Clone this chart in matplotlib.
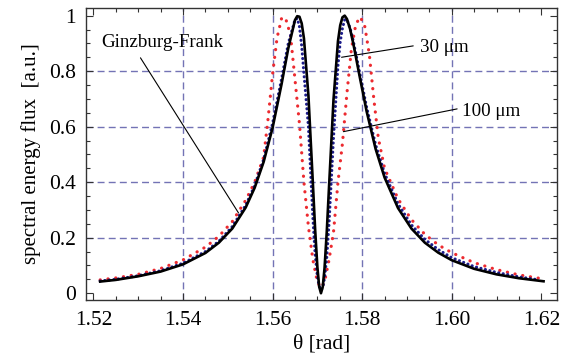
import numpy as np
import matplotlib as mpl
mpl.use("Agg")
import matplotlib.pyplot as plt
from matplotlib.ticker import MultipleLocator

# values
theta_gf = [1.5215, 1.525, 1.53, 1.535, 1.54, 1.545, 1.548, 1.551, 1.554, 1.556,
            1.558, 1.560, 1.562, 1.5635, 1.565, 1.5655, 1.566, 1.5665, 1.567, 1.568,
            1.569, 1.5695, 1.570, 1.5704, 1.5708, 1.5712, 1.5716, 1.5721, 1.5726, 1.5736,
            1.5746, 1.5751, 1.5756, 1.5761, 1.5766, 1.5773, 1.578, 1.5795, 1.581, 1.583,
            1.585, 1.588, 1.591, 1.594, 1.597, 1.600, 1.605, 1.610, 1.615, 1.6205]
flux_gf = [0.042, 0.048, 0.061, 0.078, 0.104, 0.145, 0.182, 0.233, 0.309, 0.380,
           0.473, 0.596, 0.753, 0.882, 0.984, 0.998, 0.996, 0.972, 0.918, 0.712,
           0.394, 0.229, 0.094, 0.024, 0.0, 0.023, 0.090, 0.222, 0.382, 0.697,
           0.908, 0.965, 0.994, 1.0, 0.988, 0.952, 0.901, 0.776, 0.655, 0.520,
           0.417, 0.307, 0.233, 0.182, 0.146, 0.119, 0.088, 0.068, 0.054, 0.043]

theta_30 = [1.5215, 1.525, 1.53, 1.535, 1.54, 1.545, 1.548, 1.551, 1.554, 1.556,
            1.558, 1.560, 1.562, 1.5635, 1.565, 1.5655, 1.566, 1.5665, 1.567, 1.568,
            1.569, 1.5695, 1.570, 1.5704, 1.5708, 1.5712, 1.5716, 1.5721, 1.5726, 1.5736,
            1.5746, 1.5751, 1.5756, 1.5761, 1.5766, 1.5773, 1.578, 1.5795, 1.581, 1.583,
            1.585, 1.588, 1.591, 1.594, 1.597, 1.600, 1.605, 1.610, 1.615, 1.6195]
flux_30 = [0.044, 0.050, 0.063, 0.081, 0.108, 0.150, 0.187, 0.240, 0.317, 0.388,
           0.482, 0.612, 0.772, 0.900, 0.985, 0.990, 0.960, 0.890, 0.790, 0.600,
           0.270, 0.140, 0.060, 0.025, 0.012, 0.020, 0.055, 0.130, 0.250, 0.560,
           0.820, 0.905, 0.955, 0.985, 0.985, 0.955, 0.910, 0.790, 0.670, 0.535,
           0.432, 0.322, 0.246, 0.194, 0.157, 0.128, 0.096, 0.075, 0.059, 0.048]

theta_100 = [1.5215, 1.525, 1.53, 1.535, 1.54, 1.545, 1.548, 1.551, 1.554, 1.556,
             1.558, 1.559, 1.560, 1.561, 1.562, 1.5625, 1.563, 1.564, 1.565, 1.566,
             1.567, 1.568, 1.569, 1.570, 1.5708, 1.5716, 1.5726, 1.5736, 1.5746, 1.5756,
             1.5766, 1.5776, 1.5786, 1.5796, 1.5806, 1.5816, 1.5826, 1.5836, 1.585, 1.588,
             1.591, 1.594, 1.597, 1.600, 1.605, 1.610, 1.615, 1.6195]
flux_100 = [0.048, 0.055, 0.068, 0.089, 0.120, 0.166, 0.205, 0.258, 0.335, 0.400,
            0.490, 0.630, 0.790, 0.920, 0.990, 0.995, 0.985, 0.930, 0.770, 0.610,
            0.400, 0.240, 0.120, 0.040, 0.020, 0.040, 0.120, 0.220, 0.400, 0.540,
            0.720, 0.880, 0.970, 0.995, 0.960, 0.860, 0.700, 0.560, 0.450, 0.340,
            0.265, 0.212, 0.174, 0.146, 0.110, 0.085, 0.066, 0.054]

x_ticks = [1.52, 1.54, 1.56, 1.58, 1.60, 1.62]
y_ticks = [0, 0.2, 0.4, 0.6, 0.8, 1]
y_labels = ["0", "0.2", "0.4", "0.6", "0.8", "1"]

plt.rcParams['font.family'] = ['Liberation Serif', 'DejaVu Serif']

fig = plt.figure(figsize=(5.76, 3.57), dpi=100)
ax = fig.add_axes([0.149, 0.160, 0.818, 0.818])

grid_kw = dict(color='#5a5aa8', lw=1.0, dashes=(5, 3), alpha=0.85, zorder=1)
for x in x_ticks[1:-1]:
    ax.axvline(x, **grid_kw)
for y in y_ticks[1:-1]:
    ax.axhline(y, **grid_kw)

ax.plot(theta_100, flux_100, color='#ec2a2f', lw=2.3, ls=(0, (0.05, 2.4)),
        dash_capstyle='round', zorder=2)
ax.plot(theta_30, flux_30, color='#1c1c8a', lw=2.2, ls=(0, (0.05, 1.45)),
        dash_capstyle='round', zorder=3)
ax.plot(theta_gf, flux_gf, color='black', lw=1.9, zorder=4)

ax.set_xlim(1.5183, 1.6235)
ax.set_ylim(-0.024, 1.028)
ax.set_xticks(x_ticks)
ax.set_xticklabels([f"{t:.2f}" for t in x_ticks])
ax.set_yticks(y_ticks)
ax.set_yticklabels(y_labels)
ax.xaxis.set_minor_locator(MultipleLocator(0.005))
ax.yaxis.set_minor_locator(MultipleLocator(0.05))
ax.tick_params(which='both', direction='in', top=True, right=True,
               labelsize=15.5, color='#333333')
ax.tick_params(which='major', length=5, width=0.8)
ax.tick_params(axis='y', which='major', pad=7)
ax.tick_params(axis='x', which='major', pad=8)
ax.tick_params(which='minor', length=3, width=0.8)
for s in ax.spines.values():
    s.set_linewidth(1.0)
    s.set_color('#333333')

ax.set_xlabel("θ [rad]", fontsize=15.5, labelpad=3)
ax.set_ylabel("spectral energy flux  [a.u.]", fontsize=15, labelpad=6)

line_kw = dict(arrowprops=dict(arrowstyle='-', lw=0.8, color='black',
                               shrinkA=0, shrinkB=0))
ax.annotate("", xy=(1.5524, 0.289), xytext=(1.5305, 0.848), **line_kw)
ax.text(1.5217, 0.903, "Ginzburg-Frank", fontsize=13.7, va='center', ha='left')
ax.annotate("", xy=(1.5754, 0.850), xytext=(1.5914, 0.891), **line_kw)
ax.text(1.5930, 0.886, "30 μm", fontsize=13.7, va='center', ha='left')
ax.annotate("", xy=(1.5758, 0.582), xytext=(1.6012, 0.664), **line_kw)
ax.text(1.6022, 0.655, "100 μm", fontsize=13.7, va='center', ha='left')

fig.savefig("out.png", dpi=100)
